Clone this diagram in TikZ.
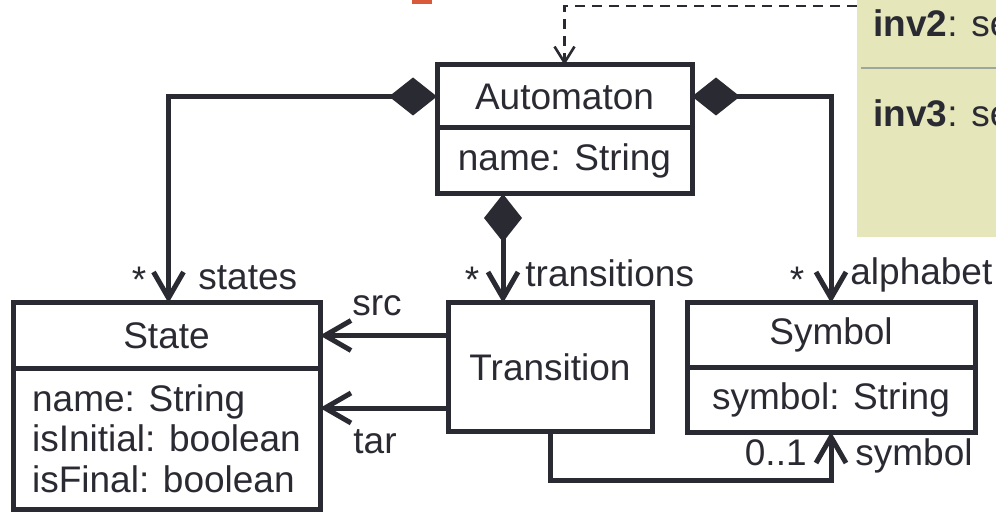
\documentclass[tikz,border=0pt]{standalone}
\usepackage{fontspec}
\setmainfont{Liberation Sans}
\usetikzlibrary{positioning,arrows.meta,calc}

\definecolor{umlline}{HTML}{2A2A33}
\definecolor{notefill}{HTML}{E6E6BB}
\definecolor{notesep}{HTML}{9CA89C}
\definecolor{markred}{HTML}{D85A3A}

\tikzset{
  cls/.style={draw=umlline, line width=2.5pt, outer sep=0pt, inner sep=0pt, text=umlline,
    font=\fontsize{18.5}{20.25}\selectfont},
  lbl/.style={text=umlline, inner sep=0pt, font=\fontsize{18.5}{20.25}\selectfont},
  assoc/.style={draw=umlline, line width=2.5pt, -{Straight Barb[length=13pt,width=15pt]}},
  comp/.style={assoc, {Diamond[length=24pt,width=19pt]}-{Straight Barb[length=13pt,width=15pt]}},
  dep/.style={draw=umlline, line width=1.3pt, dash pattern=on 5pt off 3.5pt,
    -{Straight Barb[length=8pt,width=10pt]}},
}

\begin{document}
\begin{tikzpicture}[x=0.5pt, y=-0.5pt]

    \useasboundingbox (0,0) rectangle (996,513);
    \clip (0,0) rectangle (996,513);

    % note (cut off at the right)
    \node (N) [fill=notefill, anchor=north west, minimum width=120pt, minimum height=118.5pt, inner sep=0pt] at (857,0) {};
    \draw[notesep, line width=1.2pt] ([xshift=2pt,yshift=-34pt]N.north west) -- ([yshift=-34pt]N.north east);
    \node (I2) [lbl, anchor=base west] at (873,37) {\textbf{inv2}: se};
    \node (I3) [lbl, anchor=base west] at (873,127) {\textbf{inv3}: se};

    \fill[markred] (412,0) rectangle (432,4);

    % classes
    \node (A) [cls, minimum width=127.5pt, minimum height=31.5pt] at (564.5,96.5) {Automaton};
    \node (Aa) [cls, minimum width=127.5pt, minimum height=33pt, below=0pt of A] {name: String};

    \node (S) [cls, minimum width=153.5pt, minimum height=32.5pt] at (166.5,335.5) {State};
    \node (Sa) [cls, minimum width=153.5pt, minimum height=70.5pt, below=0pt of S, align=left]
        {name: String\\isInitial: boolean\\isFinal: boolean};

    \node (T) [cls, minimum width=102pt, minimum height=64pt] at (550,367) {Transition};

    \node (Y) [cls, minimum width=144pt, minimum height=32pt] at (831,335) {Symbol};
    \node (Ya) [cls, minimum width=144pt, minimum height=32.5pt, below=0pt of Y] {symbol: String};

    % constraint link
    \draw[dep] ([yshift=-3pt]N.north west) -| (A.north);

    % compositions
    \draw[comp] (A.west) -| ([xshift=1pt]S.north);
    \draw[comp] (A.east) -| (Y.north);
    \draw[comp] ([xshift=-30.75pt]Aa.south) -- ([xshift=-30.75pt]Aa.south |- T.north);

    % associations
    \draw[assoc] (S.east -| T.west) -- (S.east);
    \draw[assoc] ([yshift=-20.5pt]T.west) -- ([yshift=-20.5pt]T.west -| Sa.east);
    \draw[assoc] (T.south) -- ++(0,49) -| (Ya.south);

    % role names and multiplicities
    \node (m1) [lbl] at (139,280) {*};
    \node (r1) [lbl, anchor=base west] at (198,290) {states};
    \node (m2) [lbl] at (472,280) {*};
    \node (r2) [lbl, anchor=base west] at (525,287) {transitions};
    \node (m3) [lbl] at (797,280) {*};
    \node (r3) [lbl, anchor=base west] at (850,285) {alphabet};
    \node (r4) [lbl, anchor=base west] at (352,315) {src};
    \node (r5) [lbl, anchor=base west] at (353,453) {tar};
    \node (m4) [lbl, anchor=base east] at (807,465) {0..1};
    \node (r6) [lbl, anchor=base west] at (855,465) {symbol};

\end{tikzpicture}
\end{document}
